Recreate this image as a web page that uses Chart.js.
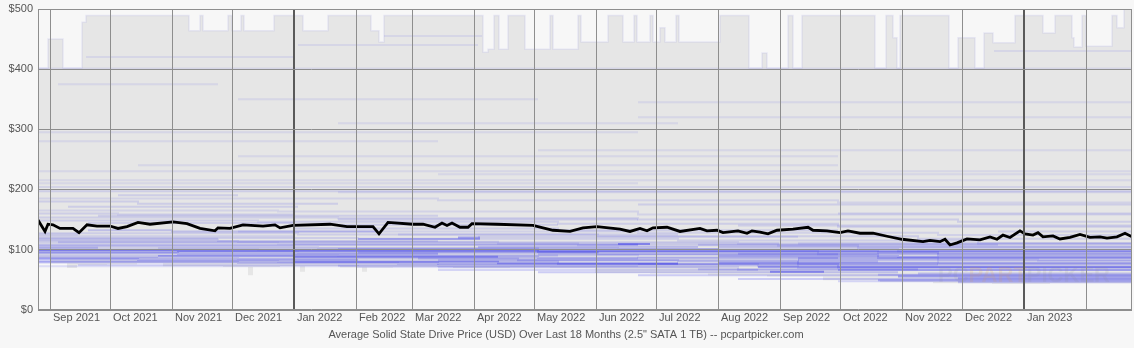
<!DOCTYPE html>
<html><head><meta charset="utf-8">
<script src="https://cdn.jsdelivr.net/npm/chart.js@4.4.1/dist/chart.umd.min.js"></script>
<style>html,body{margin:0;padding:0;background:#f7f7f7;}#wrap{width:1134px;height:348px;position:relative;}</style>
</head><body><div id="wrap"><canvas id="c" width="1134" height="348"></canvas></div>
<script>
// x values are days since 2021-08-26
const START_DATE = '2021-08-26';
const AXIS_END_DAY = 547;
const monthStartDays = [6,36,67,97,128,159,187,218,248,279,309,340,371,401,432,462,493,524];
const monthLabels = ['Sep 2021','Oct 2021','Nov 2021','Dec 2021','Jan 2022','Feb 2022','Mar 2022','Apr 2022','May 2022','Jun 2022','Jul 2022','Aug 2022','Sep 2022','Oct 2022','Nov 2022','Dec 2022','Jan 2023',''];
const yearStartDays = [128, 493];
const yTickValues = [0,100,200,300,400,500];
const chartTitle = 'Average Solid State Drive Price (USD) Over Last 18 Months (2.5" SATA 1 TB) -- pcpartpicker.com';

// average price (black line)
const avgDays = [0,3.5,5,7.5,11,17.5,20.5,24.5,29.5,36,40,44.5,50,56,67.5,74.5,81,88.5,90,96,102.5,112.5,118.5,121,127.5,146,154.5,167.5,170.5,175,187.5,192.5,198.5,202,204.5,207,211,215,217,229.5,247.5,257.5,266,272.5,279.5,291,296,301,304.5,307.5,314.5,321,331,334.5,339.5,342.5,350,354.5,357,361,365,369.5,377.5,385,387.5,394.5,401,405,411,417.5,424.5,432,442.5,446,451,453.5,456,459.5,464.5,471,476,479.5,482.5,486,491,493.5,497.5,500,502.5,507.5,511,516,521,526,531,534.5,539.5,543.5,547];
const avgPrices = [149,130,142,141,135,135,128,141,139,139,135,138,145,142,146,143,135,131,136,135,141,139,141,136,140,142,138,138,126,145,142,142,137,144,140,144,137,137,143,142,140,132,130,136,138,134,130,135,131,136,137,130,135,131,132,128,131,127,131,129,126,132,134,137,132,131,128,131,127,127,122,117,113,115,113,117,107.5,111,117.5,116,121,117,124,120,131,126,124,128,121,122.5,117.5,120,125,120,121,119,121,127,121];

// highest listed price (step) — days has one more entry than prices (end day)
const maxDays = [0,5,12.5,22,24,75.5,81,82.5,95,97,101.5,103,118,132.5,145,166.5,170.5,173,222.5,225,228,230.5,235,243.5,256,257.5,270,271.5,285,292.5,298,299.5,306,307.5,311,313.5,319,320.5,341,355.5,362,364.5,375,377.5,382,418.5,424,427.5,429.5,431,455.5,460,468.5,473,477.5,488.5,502.5,508.5,517,518,522,524,537,539.5,543,547];
const maxPrices = [402,450,402,478,489,464,489,464,489,464,489,464,489,464,489,464,445,489,428,433,489,433,489,433,489,433,489,445,489,445,489,445,489,445,469,445,489,445,489,402,427,402,489,402,489,402,489,452,402,489,402,452,402,460,444,489,460,489,452,437,489,438,489,469,500];

// lowest listed price (step)
const minDays = [0,6,14.5,19.5,34.5,49.5,62.5,92.5,105,107.5,121,131,133.5,151,162,164.5,177.5,207.5,236,256,278.5,306,335,364.5,392.5,421,447.5,477,506,547];
const minPrices = [86,77,69,74,75,77,72,71,57,71,72,63,72,70,63,70,71,69,70,69,61,60,57,55,49,46,44,42.5,44];

// individual product price histories (step): days has one more entry (end day) than prices
const productDays = [
  [0,70,250,547],[0,128,300],[0,70,200],[60,128,230],[0,50,160],[0,40,128],[25,128,260],[25,67,170],
  [0,128],[0,90,200],[0,100,200,320],[0,60],[0,30],[0,20],[15,130],[0,50,150],[40,100],
  [150,340],[160,221],[210,221],[128,230,320],[128,250,400],[190,300],[290,306],[200,320,420],
  [150,300],[128,260,400],[180,320],[128,350,547],[250,400],[300,450],[220,330],[160,280],[200,340],
  [340,430,547],[340,450,547],[360,547],[366,393],[430,547],[420,547],[380,500,547],[350,547],
  [400,547],[440,547],[340,547],[380,547],[460,547],[330,440],[350,547],[400,547],[300,547],[480,547],[0,547],
  [0,120,260,400,547],[0,100,240,380,547],[0,150,300,450,547],[0,130,280,420,547],[0,110,250,390,547],
  [0,140,290,430,547],[0,120,270,410,547],[0,100,230,370,547],[0,160,320,470,547],[0,130,280,440,547],
  [0,110,260,400,547],[0,150,300,460,547],[0,120,300,547],[0,200,400,547],[0,160,350,547],[20,200,380,547],
  [0,180,360,547],[0,250,450,547],[60,250,420,547],[100,300,450,547],[0,547],[0,300],[150,547],
  [300,547],[350,547],[400,547],[250,430],[200,360],[150,300],[460,547],[420,547],[10,128],[128,260],
  [0,90],[30,200],[220,380],[330,480],[380,547],[0,547],[100,400],
  [0,547],[10,90],[100,250],[150,320],[0,200],[250,547],[300,547],[50,400],[200,547],[0,547],
  [130,220],[478,547],[24,128],[173,222],[0,300],[300,547]
];
const productPrices = [
  [99,98,97],[107,108],[94,93],[89,88],[84,83],[160,158],[144,141],[132,130],
  [122],[116,114],[79,78,76],[88],[103],[125],[171],[180,176],[190],
  [101],[117.5],[120],[79.5,77],[88,86],[85],[109],[82,80],
  [150],[135,132],[125],[112,110],[92],[75],[104],[95],[70],
  [89,88],[78,77],[71],[63],[55],[49],[83,82],[93],
  [66],[60],[104],[110],[45.5],[67],[140],[160],[175],[130],[197],
  [81,80,76,70],[86,85,82,75],[91,90,87,80],[96,95,92,86],[101,100,98,92],
  [104,103,101,97],[111,110,107,102],[114,113,110,106],[119,118,115,110],[127,125,122,118],
  [148,146,143,138],[153,152,150,146],[165,163,158],[185,182,178],[72,71,66],[74,73,69],
  [78,76,72],[98,96,90],[102,99,94],[130,128,124],[204],[210],[195],
  [57],[51],[47],[62],[66],[73],[52],[58],[112],[90],
  [118],[156],[121],[108],[86],[230],[255],
  [401],[375],[350],[310],[280],[265],[320],[240],[225],[215],
  [440],[430],[420],[455],[295],[345]
];
const productListings = [
  5,3,3,4,3,1,1,2,
  1,1,2,2,2,1,1,1,1,
  2,3,4,4,2,2,5,2,
  1,1,1,1,2,2,2,2,1,
  3,4,4,5,4,3,3,2,
  3,2,2,1,2,2,1,1,1,1,1,
  2,2,1,2,1,
  1,1,1,1,1,
  1,1,0.7,0.7,1,1,
  1,2,1,0.8,0.6,0.5,0.6,
  2,2,1.5,2,1.5,1.5,3,2,1.5,1.5,
  1,1,1,1.5,2,0.5,0.5,
  0.5,0.5,0.5,0.5,0.5,0.5,0.5,0.5,0.5,0.5,
  0.5,0.5,0.5,0.5,0.5,0.5
];

function stepPoints(days, prices){
  const pts = prices.map((p,i)=>({x:days[i], y:p}));
  pts.push({x:days[days.length-1], y:prices[prices.length-1]});
  return pts;
}

const FONT = '"Liberation Sans", Arial, sans-serif';
const TEXT = '#555';
const GRID = '#8e8e8e';

const datasets = [];
datasets.push({
  label:'Average', data: avgDays.map((d,i)=>({x:d,y:avgPrices[i]})),
  borderColor:'#000', borderWidth:2.8, pointRadius:0, tension:0, fill:false, order:0
});
productDays.forEach((d,i)=>{
  const a = Math.min(0.55, 0.05 + 0.09*productListings[i]);
  datasets.push({
    label:'p'+i, data: stepPoints(d, productPrices[i]), stepped:true,
    borderColor:`rgba(60,60,235,${a})`, borderWidth:2, pointRadius:0, fill:false, order:1
  });
});
datasets.push({
  label:'Min', data: stepPoints(minDays, minPrices), stepped:true,
  borderWidth:0, borderColor:'rgba(0,0,0,0)', pointRadius:0, fill:'origin', backgroundColor:'#f7f7f7', order:2
});
datasets.push({
  label:'Max', data: stepPoints(maxDays, maxPrices), stepped:true,
  borderWidth:1.5, borderColor:'rgba(120,120,220,0.12)', pointRadius:0, fill:'origin', backgroundColor:'#e6e6e6', order:3
});

const frame = {
  id:'frame',
  afterDatasetsDraw(chart){
    const {ctx, chartArea:a} = chart;
    ctx.save();
    ctx.globalAlpha = 0.12;
    ctx.font = 'bold 22px ' + FONT;
    ctx.textBaseline = 'alphabetic';
    let x = 938; const y = 282;
    ctx.fillStyle = '#888'; ctx.fillText('PC', x, y); x += ctx.measureText('PC').width;
    ctx.fillStyle = '#f0a020'; ctx.fillText('PART', x, y); x += ctx.measureText('PART').width;
    ctx.fillStyle = '#888'; ctx.fillText('PICKER', x, y);
    ctx.globalAlpha = 1;
    ctx.strokeStyle = GRID; ctx.lineWidth = 1;
    ctx.strokeRect(Math.round(a.left)+0.5, Math.round(a.top)+0.5, Math.round(a.right-a.left)-1, Math.round(a.bottom-a.top));
    ctx.restore();
  }
};

new Chart(document.getElementById('c'), {
  type:'line',
  data:{datasets},
  plugins:[frame],
  options:{
    responsive:false, animation:false, devicePixelRatio:1,
    layout:{padding:{top:9, right:2, left:0, bottom:0}},
    plugins:{
      legend:{display:false}, tooltip:{enabled:false},
      title:{display:true, text:chartTitle, position:'bottom', color:TEXT,
        font:{family:FONT, size:11, weight:'normal'}, padding:{top:0, bottom:6}}
    },
    scales:{
      x:{
        type:'linear', min:0, max:AXIS_END_DAY,
        afterBuildTicks(s){ s.ticks = monthStartDays.map(v=>({value:v})); },
        afterFit(s){ s.height = 19.2; s.paddingLeft = 0; s.paddingRight = 0; },
        ticks:{autoSkip:false, maxRotation:0, align:'start', labelOffset:3, padding:2, color:TEXT,
          font:{family:FONT, size:11},
          callback:(v,i)=>monthLabels[i]},
        grid:{z:1, drawTicks:false,
          color:(c)=> (c.tick && yearStartDays.includes(c.tick.value)) ? '#5a5a5a' : GRID,
          lineWidth:(c)=> (c.tick && yearStartDays.includes(c.tick.value)) ? 2 : 1},
        border:{display:false}
      },
      y:{
        min:0, max:500,
        afterBuildTicks(s){ s.ticks = yTickValues.map(v=>({value:v})); },
        afterFit(s){ s.width = 38; s.paddingTop = 0; s.paddingBottom = 0; },
        ticks:{padding:5, color:TEXT, font:{family:FONT, size:11}, callback:(v)=>'$'+v},
        grid:{z:1, drawTicks:false, color:GRID, lineWidth:1},
        border:{display:false}
      }
    }
  }
});
</script></body></html>
